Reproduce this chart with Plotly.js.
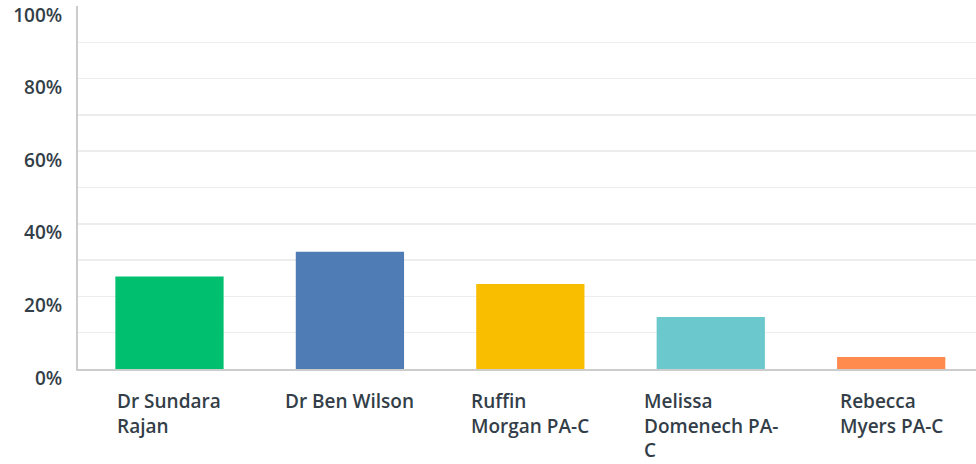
<!DOCTYPE html>
<html>
<head>
<meta charset="utf-8">
<script src="https://cdn.plot.ly/plotly-3.0.1.min.js"></script>
<style>
html,body{margin:0;padding:0;background:#fff;overflow:hidden;}
#chart{width:976px;height:464px;}
</style>
</head>
<body>
<div id="chart"></div>
<script>
const categories = ["Dr Sundara Rajan", "Dr Ben Wilson", "Ruffin Morgan PA-C", "Melissa Domenech PA-C", "Rebecca Myers PA-C"];
const tickLabels = ["Dr Sundara<br>Rajan", "Dr Ben Wilson", "Ruffin<br>Morgan PA-C", "Melissa<br>Domenech PA-<br>C", "Rebecca<br>Myers PA-C"];
const values = [25.5, 32.3, 23.4, 14.3, 3.3];
const colors = ["#00bf6f", "#507cb6", "#f9be00", "#6bc8cd", "#ff8b4f"];
const yTickVals = [0, 20, 40, 60, 80, 100];
const yTickText = ["0%", "20%", "40%", "60%", "80%", "100%"];

const font = {family: "'Open Sans', sans-serif", size: 19, color: "#333e48", weight: 600};

const trace = {
  type: "bar",
  x: categories,
  y: values,
  marker: {color: colors, line: {width: 0}},
  hoverinfo: "skip"
};

const labelAnnotations = categories.map((c, i) => ({
  x: c,
  y: 0,
  xref: "x",
  yref: "y",
  xanchor: "center",
  yanchor: "top",
  align: "left",
  showarrow: false,
  yshift: -17,
  text: tickLabels[i],
  font: font
}));

const layout = {
  width: 976,
  height: 464,
  margin: {l: 78, r: 0, t: 6, b: 95, pad: 0},
  paper_bgcolor: "#ffffff",
  plot_bgcolor: "#ffffff",
  showlegend: false,
  bargap: 0.4,
  font: font,
  annotations: labelAnnotations,
  xaxis: {
    type: "category",
    range: [-0.507, 4.47],
    showticklabels: false,
    ticks: "",
    showgrid: false,
    zeroline: false,
    showline: true,
    linecolor: "#cccccc",
    linewidth: 2,
    fixedrange: true
  },
  yaxis: {
    range: [0, 100],
    tickvals: yTickVals,
    ticktext: yTickText,
    tickfont: font,
    ticks: "",
    showgrid: true,
    gridcolor: "#ededed",
    gridwidth: 1.5,
    minor: {dtick: 10, showgrid: true, gridcolor: "#ededed", gridwidth: 1.5, ticks: ""},
    zeroline: false,
    showline: true,
    linecolor: "#cccccc",
    linewidth: 2,
    ticklabelshift: 9,
    ticklabelstandoff: 10,
    fixedrange: true
  }
};

Plotly.newPlot("chart", [trace], layout, {displayModeBar: false, staticPlot: true});
</script>
</body>
</html>
